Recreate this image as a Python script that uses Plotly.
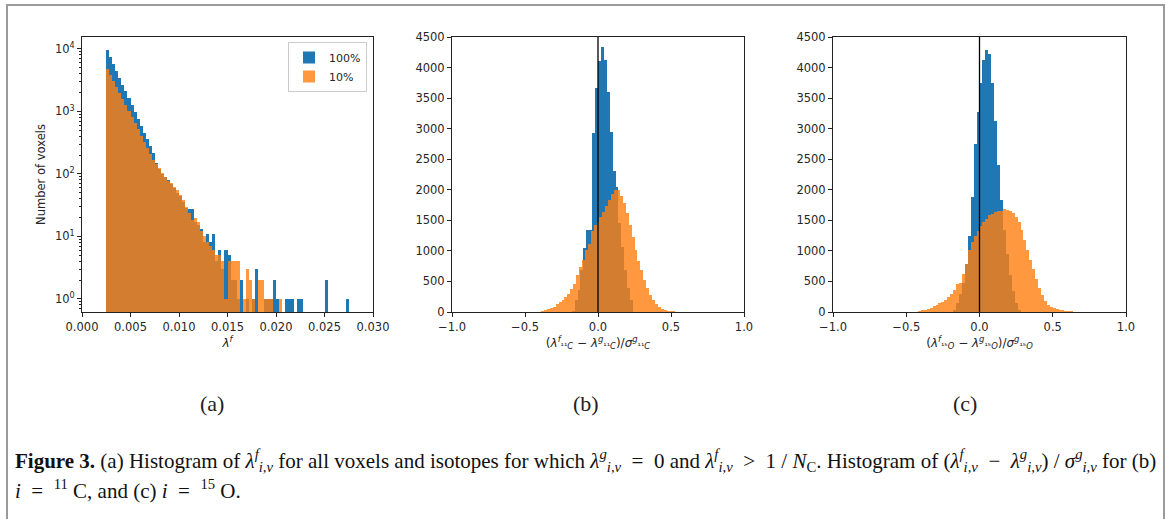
import plotly.graph_objects as go

# ---------------- data ----------------
# Panel (a): histogram of lambda^f (log y), common bins
A_BIN_START = 0.0025
A_BIN_WIDTH = 0.0003125
A_COUNTS_100 = [9550, 7400, 5750, 4470, 3470, 2690, 2090, 1620, 1260, 977,
                759, 589, 457, 355, 275, 214, 150, 120, 100, 88,
                80, 70, 60, 50, 44, 36, 28, 27, 27, 17,
                15, 13, 8, 11, 8, 11, 4, 6, 3, 6,
                5, 2, 2, 1, 2, 0, 1, 0, 1, 3,
                0, 0, 1, 1, 1, 2, 1, 0, 0, 1,
                1, 1, 0, 1, 1, 0, 0, 0, 0, 0,
                0, 0, 2, 0, 0, 0, 0, 0, 0, 1]
A_COUNTS_10 = [4790, 3830, 3060, 2450, 1960, 1570, 1250, 1000, 800, 640,
               513, 410, 328, 262, 210, 168, 145, 125, 105, 88,
               76, 72, 62, 55, 46, 38, 30, 24, 18, 20,
               17, 12, 10, 8, 7, 6, 5, 5, 4, 1,
               4, 4, 4, 4, 0, 1, 3, 2, 1, 0,
               2, 2, 1, 1, 1, 0, 0, 1, 0, 0,
               0, 0, 0, 0, 0, 0, 0, 0, 0, 0,
               0, 0, 0, 0, 0, 0, 0, 0, 0, 0]
A_XTICKS = [0.000, 0.005, 0.010, 0.015, 0.020, 0.025, 0.030]
A_XTICK_LABELS = ["0.000", "0.005", "0.010", "0.015", "0.020", "0.025", "0.030"]
A_YTICKS = [1, 10, 100, 1000, 10000]
A_YTICK_LABELS = ["10<sup>0</sup>", "10<sup>1</sup>", "10<sup>2</sup>", "10<sup>3</sup>", "10<sup>4</sup>"]

# Panel (b): 11C
B_BIN_WIDTH = 0.02
B_CENTERS_100 = [-0.17, -0.15, -0.13, -0.11, -0.09, -0.07, -0.05, -0.03, -0.01, 0.01,
                 0.03, 0.05, 0.07, 0.09, 0.11, 0.13, 0.15, 0.17, 0.19, 0.21, 0.23]
B_COUNTS_100 = [15, 190, 355, 680, 1040, 1340, 1350, 2930, 3660, 4100,
                4340, 4130, 3600, 2950, 2300, 2050, 1450, 1070, 680, 400, 200]
B_CENTERS_10 = [-0.38, -0.36, -0.34, -0.32, -0.30, -0.28, -0.26, -0.24, -0.22, -0.20,
                -0.18, -0.16, -0.14, -0.12, -0.10, -0.08, -0.06, -0.04, -0.02, 0.00,
                0.02, 0.04, 0.06, 0.08, 0.10, 0.12, 0.14, 0.16, 0.18, 0.20,
                0.22, 0.24, 0.26, 0.28, 0.30, 0.32, 0.34, 0.36, 0.38, 0.40,
                0.42, 0.44, 0.46, 0.48, 0.50, 0.52]
B_COUNTS_10 = [15, 30, 50, 70, 90, 125, 165, 200, 240, 300,
               380, 465, 600, 740, 850, 1010, 1120, 1330, 1420, 1480,
               1560, 1640, 1740, 1830, 1930, 2000, 1990, 1900, 1780, 1620,
               1420, 1220, 1020, 840, 680, 520, 400, 280, 190, 130,
               80, 50, 30, 15, 8, 4]

# Panel (c): 15O
C_BIN_WIDTH = 0.02
C_CENTERS_100 = [-0.17, -0.15, -0.13, -0.11, -0.09, -0.07, -0.05, -0.03, -0.01, 0.01,
                 0.03, 0.05, 0.07, 0.09, 0.11, 0.13, 0.15, 0.17, 0.19, 0.21,
                 0.23, 0.25, 0.27]
C_COUNTS_100 = [40, 150, 300, 470, 790, 1250, 1880, 2750, 3280, 3740,
                4130, 4280, 4230, 3740, 3120, 2400, 1830, 1350, 950, 600,
                350, 150, 40]
C_CENTERS_10 = [-0.41, -0.39, -0.37, -0.35, -0.33, -0.31, -0.29, -0.27, -0.25, -0.23,
                -0.21, -0.19, -0.17, -0.15, -0.13, -0.11, -0.09, -0.07, -0.05, -0.03,
                -0.01, 0.01, 0.03, 0.05, 0.07, 0.09, 0.11, 0.13, 0.15, 0.17,
                0.19, 0.21, 0.23, 0.25, 0.27, 0.29, 0.31, 0.33, 0.35, 0.37,
                0.39, 0.41, 0.43, 0.45, 0.47, 0.49, 0.51, 0.53, 0.55, 0.57,
                0.59, 0.61, 0.63]
C_COUNTS_10 = [10, 20, 30, 50, 70, 100, 120, 140, 160, 190,
               240, 300, 355, 460, 480, 620, 790, 1010, 1150, 1250,
               1330, 1400, 1470, 1530, 1580, 1610, 1640, 1650, 1660, 1680,
               1670, 1650, 1620, 1560, 1470, 1340, 1180, 1010, 850, 700,
               540, 400, 280, 180, 120, 85, 60, 45, 30, 20,
               12, 8, 4]

BC_XTICKS = [-1.0, -0.5, 0.0, 0.5, 1.0]
BC_XTICK_LABELS = ["\u22121.0", "\u22120.5", "0.0", "0.5", "1.0"]
BC_YTICKS = [0, 500, 1000, 1500, 2000, 2500, 3000, 3500, 4000, 4500]
REF_LINE_X = 0.0

SERIES_NAMES = ["100%", "10%"]
PANEL_LABELS = ["(a)", "(b)", "(c)"]

# ---------------- style ----------------
BLUE = "#1f77b4"
ORANGE = "#ff7f0e"
ORANGE_ALPHA = 0.8
W, H = 1170, 519
TXT = "#262626"
TICK_FONT = dict(family="DejaVu Sans", size=11.5, color=TXT)
SP = "\u00a0"


def px_x(p):
    return p / W


def px_y(p):
    return 1 - p / H


fig = go.Figure()

a_centers = [A_BIN_START + (i + 0.5) * A_BIN_WIDTH for i in range(len(A_COUNTS_100))]


def nz(vals):
    return [v if v > 0 else None for v in vals]


fig.add_trace(go.Bar(x=a_centers, y=nz(A_COUNTS_100), width=A_BIN_WIDTH, name=SERIES_NAMES[0],
                     marker=dict(color=BLUE, line=dict(width=0)), xaxis="x", yaxis="y"))
fig.add_trace(go.Bar(x=a_centers, y=nz(A_COUNTS_10), width=A_BIN_WIDTH, name=SERIES_NAMES[1],
                     marker=dict(color=ORANGE, line=dict(width=0)), opacity=ORANGE_ALPHA,
                     xaxis="x", yaxis="y"))

fig.add_trace(go.Bar(x=B_CENTERS_100, y=B_COUNTS_100, width=B_BIN_WIDTH, name=SERIES_NAMES[0],
                     marker=dict(color=BLUE, line=dict(width=0)), showlegend=False,
                     xaxis="x2", yaxis="y2"))
fig.add_trace(go.Bar(x=B_CENTERS_10, y=B_COUNTS_10, width=B_BIN_WIDTH, name=SERIES_NAMES[1],
                     marker=dict(color=ORANGE, line=dict(width=0)), opacity=ORANGE_ALPHA,
                     showlegend=False, xaxis="x2", yaxis="y2"))

fig.add_trace(go.Bar(x=C_CENTERS_100, y=C_COUNTS_100, width=C_BIN_WIDTH, name=SERIES_NAMES[0],
                     marker=dict(color=BLUE, line=dict(width=0)), showlegend=False,
                     xaxis="x3", yaxis="y3"))
fig.add_trace(go.Bar(x=C_CENTERS_10, y=C_COUNTS_10, width=C_BIN_WIDTH, name=SERIES_NAMES[1],
                     marker=dict(color=ORANGE, line=dict(width=0)), opacity=ORANGE_ALPHA,
                     showlegend=False, xaxis="x3", yaxis="y3"))

y_dom = [px_y(312), px_y(37)]
axis_common = dict(showline=True, linecolor="#222", linewidth=1, mirror=True,
                   ticks="outside", ticklen=4, tickcolor="#222", showgrid=False,
                   zeroline=False, tickfont=TICK_FONT, automargin=False)

minor_vals = [m * 10 ** e for e in range(-1, 4) for m in range(2, 10)]
TITLE_FONT = dict(family="DejaVu Sans", size=12, color=TXT)

fig.update_layout(
    width=W, height=H,
    margin=dict(l=0, r=0, t=0, b=0),
    paper_bgcolor="white", plot_bgcolor="white",
    barmode="overlay", bargap=0,
    xaxis=dict(domain=[px_x(82), px_x(373)], anchor="y", range=[0, 0.030],
               tickvals=A_XTICKS, ticktext=A_XTICK_LABELS,
               title=dict(text="<i>λ<sup>f</sup></i>", font=TITLE_FONT, standoff=2),
               **axis_common),
    yaxis=dict(domain=y_dom, anchor="x", type="log", range=[-0.21, 4.19],
               tickvals=A_YTICKS, ticktext=A_YTICK_LABELS,
               minor=dict(tickvals=minor_vals, ticks="outside", ticklen=2, tickcolor="#222"),
               title=dict(text="Number of voxels", font=dict(family="DejaVu Sans", size=11.5, color=TXT), standoff=6),
               **axis_common),
    xaxis2=dict(domain=[px_x(452), px_x(744)], anchor="y2", range=[-1, 1],
                tickvals=BC_XTICKS, ticktext=BC_XTICK_LABELS,
                title=dict(text="(<i>λ</i><sup><i>f</i></sup><sub>¹¹<i>C</i></sub> − <i>λ</i><sup><i>g</i></sup><sub>¹¹<i>C</i></sub>)/<i>σ</i><sup><i>g</i></sup><sub>¹¹<i>C</i></sub>",
                           font=TITLE_FONT, standoff=2),
                **axis_common),
    yaxis2=dict(domain=y_dom, anchor="x2", range=[0, 4500], tickvals=BC_YTICKS, **axis_common),
    xaxis3=dict(domain=[px_x(833), px_x(1126)], anchor="y3", range=[-1, 1],
                tickvals=BC_XTICKS, ticktext=BC_XTICK_LABELS,
                title=dict(text="(<i>λ</i><sup><i>f</i></sup><sub>¹⁵<i>O</i></sub> − <i>λ</i><sup><i>g</i></sup><sub>¹⁵<i>O</i></sub>)/<i>σ</i><sup><i>g</i></sup><sub>¹⁵<i>O</i></sub>",
                           font=TITLE_FONT, standoff=2),
                **axis_common),
    yaxis3=dict(domain=y_dom, anchor="x3", range=[0, 4500], tickvals=BC_YTICKS, **axis_common),
    legend=dict(x=px_x(367), xanchor="right", y=px_y(42), yanchor="top",
                bgcolor="white", bordercolor="#cccccc", borderwidth=1,
                font=dict(family="DejaVu Sans", size=11, color=TXT),
                tracegroupgap=0, itemwidth=30),
    showlegend=True,
)

# zero reference lines in (b) and (c)
for xr, yr in (("x2", "y2 domain"), ("x3", "y3 domain")):
    fig.add_shape(type="line", xref=xr, yref=yr, x0=REF_LINE_X, x1=REF_LINE_X, y0=0, y1=1,
                  line=dict(color="black", width=1.3))

# outer frame of the figure
fig.add_shape(type="rect", xref="paper", yref="paper", x0=px_x(7), x1=px_x(1164),
              y0=-0.05, y1=px_y(5), line=dict(color="#9a9a9a", width=2), layer="below")

# panel labels
for lab, cx in zip(PANEL_LABELS, (212, 586, 965)):
    fig.add_annotation(text=lab, x=px_x(cx), y=px_y(403), xref="paper", yref="paper",
                       showarrow=False, xanchor="center", yanchor="middle",
                       font=dict(family="Liberation Serif", size=22, color="#222"))

OP = lambda s: SP * 2 + s + SP * 2
CAPTION_1 = ("<b>Figure 3.</b> (a) Histogram of <i>λ</i><sup><i>f</i></sup><sub><i>i,ν</i></sub> for all voxels and isotopes for which "
             "<i>λ</i><sup><i>g</i></sup><sub><i>i,ν</i></sub>" + OP("=") + "0 and <i>λ</i><sup><i>f</i></sup><sub><i>i,ν</i></sub>"
             + OP("&gt;") + "1" + SP + "/" + SP + "<i>N</i><sub>C</sub>. "
             "Histogram of (<i>λ</i><sup><i>f</i></sup><sub><i>i,ν</i></sub>" + OP("−") + "<i>λ</i><sup><i>g</i></sup><sub><i>i,ν</i></sub>)"
             + SP + "/" + SP + "<i>σ</i><sup><i>g</i></sup><sub><i>i,ν</i></sub> for (b)")
CAPTION_2 = "<i>i</i>" + OP("=") + "<sup>11</sup>" + SP + "C, and (c) <i>i</i>" + OP("=") + "<sup>15</sup>" + SP + "O."

CAP_FONT = dict(family="Liberation Serif", size=21, color="#111")
fig.add_annotation(text=CAPTION_1, x=px_x(13), y=px_y(460), xref="paper", yref="paper",
                   showarrow=False, xanchor="left", yanchor="middle", align="left", font=CAP_FONT)
fig.add_annotation(text=CAPTION_2, x=px_x(13), y=px_y(489), xref="paper", yref="paper",
                   showarrow=False, xanchor="left", yanchor="middle", align="left", font=CAP_FONT)

fig.write_html("out.html", config={"displayModeBar": False},
               post_script="document.body.style.margin='0';document.body.style.overflow='hidden';")
